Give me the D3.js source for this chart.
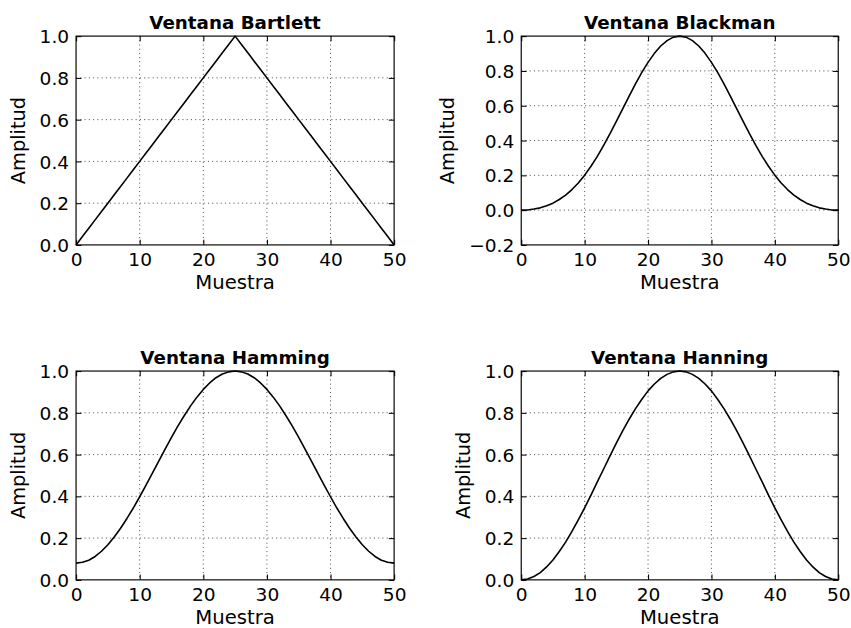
<!DOCTYPE html>
<html>
<head>
<meta charset="utf-8">
<script src="https://cdn.jsdelivr.net/npm/d3@7"></script>
<style>
    body { margin: 0; background: #fff; }
    text { font-family: "DejaVu Sans", sans-serif; fill: #000; }
</style>
</head>
<body>
<svg id="chart"></svg>
<script>
// window values, one per sample (0..50)
const bartlett = [
    0.00, 0.04, 0.08, 0.12, 0.16, 0.20, 0.24, 0.28, 0.32, 0.36,
    0.40, 0.44, 0.48, 0.52, 0.56, 0.60, 0.64, 0.68, 0.72, 0.76,
    0.80, 0.84, 0.88, 0.92, 0.96, 1.00, 0.96, 0.92, 0.88, 0.84,
    0.80, 0.76, 0.72, 0.68, 0.64, 0.60, 0.56, 0.52, 0.48, 0.44,
    0.40, 0.36, 0.32, 0.28, 0.24, 0.20, 0.16, 0.12, 0.08, 0.04,
    0.00
];
const blackman = [
    0.000, 0.001, 0.006, 0.013, 0.025, 0.040, 0.061, 0.086, 0.118, 0.156,
    0.201, 0.252, 0.309, 0.372, 0.439, 0.510, 0.582, 0.654, 0.724, 0.790,
    0.849, 0.901, 0.943, 0.974, 0.994, 1.000, 0.994, 0.974, 0.943, 0.901,
    0.849, 0.790, 0.724, 0.654, 0.582, 0.510, 0.439, 0.372, 0.309, 0.252,
    0.201, 0.156, 0.118, 0.086, 0.061, 0.040, 0.025, 0.013, 0.006, 0.001,
    0.000
];
const hamming = [
    0.080, 0.084, 0.094, 0.112, 0.137, 0.168, 0.205, 0.247, 0.294, 0.344,
    0.398, 0.454, 0.511, 0.569, 0.626, 0.682, 0.736, 0.786, 0.833, 0.875,
    0.912, 0.943, 0.968, 0.986, 0.996, 1.000, 0.996, 0.986, 0.968, 0.943,
    0.912, 0.875, 0.833, 0.786, 0.736, 0.682, 0.626, 0.569, 0.511, 0.454,
    0.398, 0.344, 0.294, 0.247, 0.205, 0.168, 0.137, 0.112, 0.094, 0.084,
    0.080
];
const hanning = [
    0.000, 0.004, 0.016, 0.035, 0.062, 0.095, 0.136, 0.181, 0.232, 0.287,
    0.345, 0.406, 0.469, 0.531, 0.594, 0.655, 0.713, 0.768, 0.819, 0.864,
    0.905, 0.938, 0.965, 0.984, 0.996, 1.000, 0.996, 0.984, 0.965, 0.938,
    0.905, 0.864, 0.819, 0.768, 0.713, 0.655, 0.594, 0.531, 0.469, 0.406,
    0.345, 0.287, 0.232, 0.181, 0.136, 0.095, 0.062, 0.035, 0.016, 0.004,
    0.000
];

const titles = ["Ventana Bartlett", "Ventana Blackman", "Ventana Hamming", "Ventana Hanning"];
const xTicks = [0, 10, 20, 30, 40, 50];
const yTicksPos = [0.0, 0.2, 0.4, 0.6, 0.8, 1.0];
const yTicksBlackman = [-0.2, 0.0, 0.2, 0.4, 0.6, 0.8, 1.0];
const xLabel = "Muestra";
const yLabel = "Amplitud";

// the figure is laid out on an 800x600 canvas and stretched to the window
const W = 800, H = 600;
const cols = [[71.5, 370.5], [490, 788]];
const rows = [[34.5, 234], [354.5, 554]];

const svg = d3.select("#chart")
    .attr("width", 851)
    .attr("height", 628)
    .attr("viewBox", "0 0 " + W + " " + H)
    .attr("preserveAspectRatio", "none");

const fmt = d3.format(".1f");

function drawPanel(title, values, yTicks, box) {
    const [x0, x1] = box.x;
    const [y0, y1] = box.y;

    const x = d3.scaleLinear().domain([0, 50]).range([x0, x1]);
    const y = d3.scaleLinear().domain([yTicks[0], yTicks[yTicks.length - 1]]).range([y1, y0]);

    const g = svg.append("g");

    // dotted grid
    const grid = g.append("g")
        .attr("stroke", "#333")
        .attr("stroke-width", 0.8)
        .attr("stroke-dasharray", "1,3");
    grid.selectAll(".gx").data(xTicks.slice(1, -1)).enter()
        .append("line")
        .attr("x1", d => x(d)).attr("x2", d => x(d))
        .attr("y1", y0).attr("y2", y1);
    grid.selectAll(".gy").data(yTicks.slice(1, -1)).enter()
        .append("line")
        .attr("x1", x0).attr("x2", x1)
        .attr("y1", d => y(d)).attr("y2", d => y(d));

    // axes, ticks pointing inwards on all four sides
    const tickLen = 5;
    const bottom = g.append("g").attr("transform", "translate(0," + y1 + ")")
        .call(d3.axisBottom(x).tickValues(xTicks).tickSizeInner(-tickLen).tickSizeOuter(0).tickPadding(8));
    const top = g.append("g").attr("transform", "translate(0," + y0 + ")")
        .call(d3.axisTop(x).tickValues(xTicks).tickSizeInner(-tickLen).tickSizeOuter(0).tickFormat(""));
    const left = g.append("g").attr("transform", "translate(" + x0 + ",0)")
        .call(d3.axisLeft(y).tickValues(yTicks).tickSizeInner(-tickLen).tickSizeOuter(0).tickPadding(6.5).tickFormat(fmt));
    const right = g.append("g").attr("transform", "translate(" + x1 + ",0)")
        .call(d3.axisRight(y).tickValues(yTicks).tickSizeInner(-tickLen).tickSizeOuter(0).tickFormat(""));

    [bottom, top, left, right].forEach(a => {
        a.select(".domain").remove();
        a.selectAll("line").attr("stroke", "#000").attr("stroke-width", 1);
        a.selectAll("text")
            .style("font-family", "DejaVu Sans")
            .attr("font-size", 17.5)
            .attr("fill", "#222");
    });
    bottom.selectAll("text").attr("dy", "0.72em");
    left.selectAll("text").attr("dy", "0.36em");

    // the line
    const line = d3.line()
        .x((d, i) => x(i))
        .y(d => y(d));
    g.append("path")
        .datum(values)
        .attr("fill", "none")
        .attr("stroke", "#000")
        .attr("stroke-width", 1.5)
        .attr("stroke-linejoin", "round")
        .attr("d", line);

    // frame
    g.append("rect")
        .attr("x", x0).attr("y", y0)
        .attr("width", x1 - x0).attr("height", y1 - y0)
        .attr("fill", "none")
        .attr("stroke", "#000")
        .attr("stroke-width", 1.1);

    // title and labels
    g.append("text")
        .attr("x", (x0 + x1) / 2)
        .attr("y", y0 - 6.5)
        .attr("text-anchor", "middle")
        .attr("font-size", 17.2)
        .attr("font-weight", "bold")
        .text(title);

    g.append("text")
        .attr("x", (x0 + x1) / 2)
        .attr("y", y1 + 42)
        .attr("text-anchor", "middle")
        .attr("font-size", 18.5)
        .attr("fill", "#222")
        .text(xLabel);

    let maxW = 0;
    left.selectAll("text").each(function() {
        maxW = Math.max(maxW, this.getComputedTextLength());
    });
    const lx = x0 - 6.5 - maxW - 14;
    g.append("text")
        .attr("transform", "translate(" + lx + "," + ((y0 + y1) / 2) + ") rotate(-90)")
        .attr("text-anchor", "middle")
        .attr("font-size", 18.5)
        .attr("fill", "#222")
        .text(yLabel);
}

drawPanel(titles[0], bartlett, yTicksPos, { x: cols[0], y: rows[0] });
drawPanel(titles[1], blackman, yTicksBlackman, { x: cols[1], y: rows[0] });
drawPanel(titles[2], hamming, yTicksPos, { x: cols[0], y: rows[1] });
drawPanel(titles[3], hanning, yTicksPos, { x: cols[1], y: rows[1] });
</script>
</body>
</html>
